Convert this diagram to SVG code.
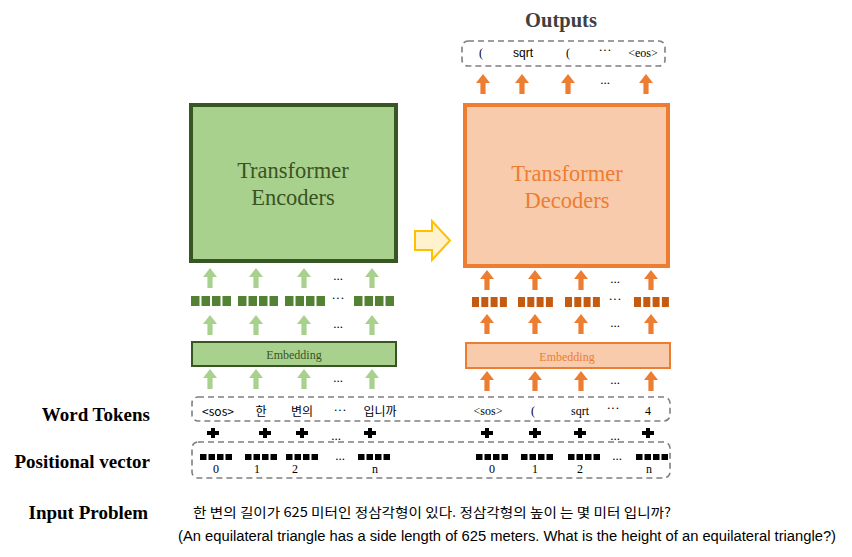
<svg xmlns="http://www.w3.org/2000/svg" width="852" height="557" viewBox="0 0 852 557">
<style>
.serif{font-family:"Liberation Serif","Times New Roman",serif}
.sans{font-family:"Liberation Sans",Arial,sans-serif}
.kr{font-family:"Noto Sans CJK KR","Liberation Sans",sans-serif}
.lbl{font-family:"Liberation Serif",serif;font-weight:bold;font-size:19px;fill:#000}
.dash{fill:none;stroke:#7F7F7F;stroke-width:1.6;stroke-dasharray:6 4}
.dots{font-family:"Liberation Serif",serif;font-size:13px;fill:#000;text-anchor:middle}
.tok{font-size:12px;fill:#000;text-anchor:middle}
.num{font-family:"Liberation Serif",serif;font-size:12px;fill:#000;text-anchor:middle}
.title{font-family:"Liberation Serif","Times New Roman",serif;font-size:22.5px;text-anchor:middle}
.ga{fill:#A9D18E}
.oa{fill:#ED7D31}
.gs{fill:#548235}
.os{fill:#C55A11}
.ps{fill:#000}
</style>
<defs>
<path id="arr" d="M0,0 L7,9 L2.6,9 L2.6,20 L-2.6,20 L-2.6,9 L-7,9 Z"/>
<path id="plus" d="M-2,-5 h4 v3 h4 v4 h-4 v3 h-4 v-3 h-4 v-4 h4 z"/>
<g id="gsq"><rect x="0" y="0" width="8.5" height="10"/><rect x="10.5" y="0" width="8.5" height="10"/><rect x="21" y="0" width="8.5" height="10"/><rect x="31.5" y="0" width="8.5" height="10"/></g>
<g id="osq"><rect x="0" y="0" width="7" height="10"/><rect x="9.3" y="0" width="7" height="10"/><rect x="18.6" y="0" width="7" height="10"/><rect x="27.9" y="0" width="7" height="10"/></g>
<g id="psq"><rect x="0" y="0" width="6.5" height="6"/><rect x="8.5" y="0" width="6.5" height="6"/><rect x="17" y="0" width="6.5" height="6"/><rect x="25.5" y="0" width="6.5" height="6"/></g>
</defs>

<!-- Left labels -->
<g id="labels">
<text class="lbl" x="150" y="421" text-anchor="end">Word Tokens</text>
<text class="lbl" x="150" y="468" text-anchor="end">Positional vector</text>
<text class="lbl" x="148" y="519" text-anchor="end">Input Problem</text>
</g>

<!-- Encoder -->
<g id="encoder">
<rect x="191" y="105" width="205" height="156" fill="#A9D18E" stroke="#375623" stroke-width="4"/>
<text class="title" x="293" y="178" fill="#3B5323">Transformer</text>
<text class="title" x="293" y="205" fill="#3B5323">Encoders</text>
</g>

<!-- Decoder -->
<g id="decoder">
<rect x="465" y="105" width="203" height="161" fill="#F8CBAD" stroke="#ED7D31" stroke-width="4"/>
<text class="title" x="567" y="181" fill="#ED7D31">Transformer</text>
<text class="title" x="567" y="208" fill="#ED7D31">Decoders</text>
</g>

<!-- Yellow transfer arrow -->
<g id="transfer">
<path d="M415,231 L432,231 L432,221 L450,240.5 L432,260 L432,250 L415,250 Z" fill="#FFF2CC" stroke="#FFC000" stroke-width="2"/>
</g>

<!-- Embeddings -->
<g id="enc-embedding">
<rect x="192" y="342" width="204" height="24" fill="#A9D18E" stroke="#375623" stroke-width="2"/>
<text class="serif" x="294" y="359" font-size="12" fill="#3B5323" text-anchor="middle">Embedding</text>
</g>
<g id="dec-embedding">
<rect x="466" y="343" width="204" height="25" fill="#F8CBAD" stroke="#ED7D31" stroke-width="2"/>
<text class="serif" x="567" y="361" font-size="12" fill="#ED7D31" text-anchor="middle">Embedding</text>
</g>

<!-- Encoder vector rows -->
<g id="enc-vectors" class="gs">
<use href="#gsq" x="191" y="296"/>
<use href="#gsq" x="238" y="296"/>
<use href="#gsq" x="285" y="296"/>
<use href="#gsq" x="354" y="296"/>
</g>
<g id="dec-vectors" class="os">
<use href="#osq" x="472" y="297"/>
<use href="#osq" x="518" y="297"/>
<use href="#osq" x="565" y="297"/>
<use href="#osq" x="634" y="297"/>
</g>

<!-- Outputs -->
<g id="outputs">
<text class="serif" x="561" y="27" font-size="20.5" font-weight="bold" fill="#404040" text-anchor="middle">Outputs</text>
<rect class="dash" x="462" y="41" width="203" height="25" rx="6"/>
<text class="serif tok" x="481" y="57" font-size="11">(</text>
<text class="sans tok" x="523" y="57" font-size="11">sqrt</text>
<text class="serif tok" x="568" y="57" font-size="11">(</text>
<text class="dots" x="605" y="54">···</text>
<text class="serif tok" x="643" y="57" font-size="11">&lt;eos&gt;</text>
</g>

<!-- Word tokens -->
<g id="word-tokens">
<rect class="dash" x="192" y="397" width="478" height="24" rx="6"/>
<text class="kr tok" x="218" y="416">&lt;sos&gt;</text>
<text class="kr tok" x="261" y="416">한</text>
<text class="kr tok" x="302" y="416">변의</text>
<text class="dots" x="340" y="414">···</text>
<text class="kr tok" x="380" y="416">입니까</text>
<text class="serif tok" x="488" y="415" font-size="11">&lt;sos&gt;</text>
<text class="serif tok" x="533" y="415">(</text>
<text class="serif tok" x="580" y="415">sqrt</text>
<text class="dots" x="613" y="412">···</text>
<text class="serif tok" x="648" y="415">4</text>
</g>

<!-- Plus signs -->
<g id="plus-row" class="ps">
<use href="#plus" x="213" y="433"/>
<use href="#plus" x="265" y="433"/>
<use href="#plus" x="302" y="433"/>
<use href="#plus" x="370" y="433"/>
<use href="#plus" x="487" y="433"/>
<use href="#plus" x="535" y="433"/>
<use href="#plus" x="580" y="433"/>
<use href="#plus" x="648" y="433"/>
<text class="dots" x="336" y="440">...</text>
<text class="dots" x="615" y="440">...</text>
</g>

<!-- Positional vectors -->
<g id="positional">
<rect class="dash" x="192" y="442" width="478" height="36" rx="6"/>
<g class="ps">
<use href="#psq" x="200" y="454"/>
<use href="#psq" x="245" y="454"/>
<use href="#psq" x="286" y="454"/>
<use href="#psq" x="358" y="454"/>
<use href="#psq" x="476" y="454"/>
<use href="#psq" x="521" y="454"/>
<use href="#psq" x="568" y="454"/>
<use href="#psq" x="636" y="454"/>
</g>
<text class="dots" x="340" y="460">...</text>
<text class="dots" x="617" y="460">...</text>
<text class="num" x="216" y="473">0</text>
<text class="num" x="257" y="473">1</text>
<text class="num" x="295" y="473">2</text>
<text class="num" x="375" y="473">n</text>
<text class="num" x="492" y="473">0</text>
<text class="num" x="535" y="473">1</text>
<text class="num" x="580" y="473">2</text>
<text class="num" x="649" y="473">n</text>
</g>

<!-- Input problem -->
<g id="input-problem">
<text class="kr" x="193" y="517" font-size="13" fill="#000" textLength="478" lengthAdjust="spacingAndGlyphs">한 변의 길이가 625 미터인 정삼각형이 있다.  정삼각형의 높이 는 몇 미터 입니까?</text>
<text class="sans" x="178" y="541" font-size="14" fill="#000" textLength="658" lengthAdjust="spacingAndGlyphs">(An equilateral triangle has a side length of 625 meters. What is the height of an equilateral triangle?)</text>
</g>

<!-- Connectors (arrows) -->
<g id="connectors">
<g class="ga">
<use href="#arr" x="210" y="268"/><use href="#arr" x="256" y="268"/><use href="#arr" x="304" y="268"/><use href="#arr" x="372" y="268"/>
<use href="#arr" x="210" y="315"/><use href="#arr" x="256" y="315"/><use href="#arr" x="304" y="315"/><use href="#arr" x="372" y="315"/>
<use href="#arr" x="210" y="369"/><use href="#arr" x="256" y="369"/><use href="#arr" x="304" y="369"/><use href="#arr" x="372" y="369"/>
</g>
<g class="oa">
<use href="#arr" x="487" y="270"/><use href="#arr" x="535" y="270"/><use href="#arr" x="581" y="270"/><use href="#arr" x="651" y="270"/>
<use href="#arr" x="487" y="314"/><use href="#arr" x="535" y="314"/><use href="#arr" x="581" y="314"/><use href="#arr" x="651" y="314"/>
<use href="#arr" x="487" y="371"/><use href="#arr" x="535" y="371"/><use href="#arr" x="581" y="371"/><use href="#arr" x="651" y="371"/>
<use href="#arr" x="483" y="74"/><use href="#arr" x="522" y="74"/><use href="#arr" x="568" y="74"/><use href="#arr" x="646" y="74"/>
</g>
<text class="dots" x="338" y="280">...</text>
<text class="dots" x="338" y="302">···</text>
<text class="dots" x="338" y="328">...</text>
<text class="dots" x="338" y="382">...</text>
<text class="dots" x="615" y="283">...</text>
<text class="dots" x="615" y="303">···</text>
<text class="dots" x="615" y="327">...</text>
<text class="dots" x="615" y="384">...</text>
<text class="dots" x="605" y="84">...</text>
</g>
</svg>
